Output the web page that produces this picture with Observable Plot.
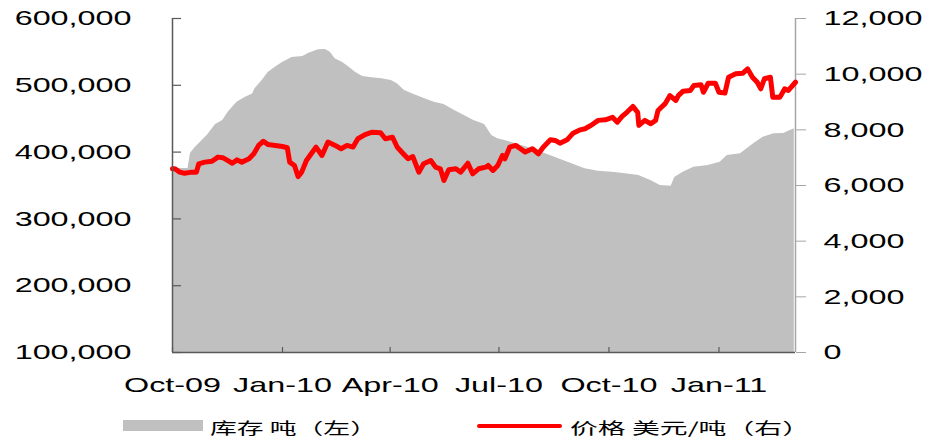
<!DOCTYPE html>
<html><head><meta charset="utf-8">
<script src="https://cdn.jsdelivr.net/npm/d3@7"></script>
<script src="https://cdn.jsdelivr.net/npm/@observablehq/plot@0.6"></script>
<style>
html,body{margin:0;padding:0;background:#fff;}
body{width:934px;height:441px;overflow:hidden;position:relative;font-family:"Liberation Sans",Arial,sans-serif;}
#chart{position:absolute;left:0;top:0;}
.sw{position:absolute;}
.legtext{position:absolute;font-family:"Noto Sans CJK SC",sans-serif;font-size:16px;line-height:16px;white-space:nowrap;transform-origin:0 50%;color:#000;}
</style></head><body>
<div id="chart"></div>
<div id="legend"></div>
<script>
// ---- data ----
const invDates = ["2009-10-01","2009-10-14","2009-10-16","2009-10-20","2009-10-30","2009-11-06","2009-11-12","2009-11-17","2009-11-24","2009-12-01","2009-12-07","2009-12-09","2009-12-15","2009-12-20","2009-12-26","2010-01-01","2010-01-09","2010-01-18","2010-01-23","2010-01-31","2010-02-06","2010-02-10","2010-02-14","2010-02-20","2010-02-25","2010-03-03","2010-03-09","2010-03-17","2010-03-25","2010-04-02","2010-04-07","2010-04-13","2010-04-21","2010-04-30","2010-05-08","2010-05-16","2010-05-25","2010-06-02","2010-06-10","2010-06-19","2010-06-25","2010-06-30","2010-07-06","2010-07-17","2010-07-29","2010-08-09","2010-08-20","2010-08-31","2010-09-11","2010-09-22","2010-10-04","2010-10-15","2010-10-26","2010-11-05","2010-11-13","2010-11-22","2010-11-25","2010-12-02","2010-12-11","2010-12-23","2011-01-02","2011-01-08","2011-01-19","2011-01-30","2011-02-07","2011-02-16","2011-02-24","2011-03-05"];
const invValues = [375400,375400,397900,406900,424800,441300,447300,460800,474700,482200,487000,495000,507200,519200,527100,534100,541600,543100,548000,553100,553600,549600,539700,534600,528100,519600,513200,511200,509700,507200,502200,492200,486200,479800,474700,471300,462300,454800,447300,441300,424800,419900,417400,411400,404900,397500,390000,382500,375000,371400,369900,367500,365000,357500,350000,349000,362000,369900,377400,379900,384900,394900,397500,412400,422300,427400,427900,434900];

const priceDates = ["2009-10-01","2009-10-03","2009-10-07","2009-10-11","2009-10-17","2009-10-21","2009-10-23","2009-10-28","2009-11-03","2009-11-08","2009-11-12","2009-11-16","2009-11-20","2009-11-24","2009-11-28","2009-12-04","2009-12-08","2009-12-12","2009-12-16","2009-12-20","2009-12-26","2010-01-01","2010-01-05","2010-01-07","2010-01-11","2010-01-14","2010-01-17","2010-01-21","2010-01-25","2010-01-29","2010-02-03","2010-02-08","2010-02-14","2010-02-19","2010-02-24","2010-03-01","2010-03-05","2010-03-11","2010-03-17","2010-03-24","2010-03-28","2010-04-03","2010-04-07","2010-04-12","2010-04-16","2010-04-20","2010-04-25","2010-04-29","2010-05-05","2010-05-09","2010-05-13","2010-05-16","2010-05-20","2010-05-26","2010-05-30","2010-06-05","2010-06-09","2010-06-14","2010-06-20","2010-06-22","2010-06-26","2010-06-30","2010-07-04","2010-07-06","2010-07-10","2010-07-15","2010-07-19","2010-07-23","2010-07-29","2010-08-03","2010-08-07","2010-08-13","2010-08-17","2010-08-21","2010-08-27","2010-09-01","2010-09-07","2010-09-11","2010-09-17","2010-09-22","2010-09-28","2010-10-04","2010-10-08","2010-10-12","2010-10-16","2010-10-21","2010-10-25","2010-10-26","2010-10-31","2010-11-05","2010-11-09","2010-11-11","2010-11-17","2010-11-21","2010-11-26","2010-11-28","2010-12-02","2010-12-08","2010-12-11","2010-12-17","2010-12-19","2010-12-23","2010-12-29","2011-01-01","2011-01-06","2011-01-09","2011-01-15","2011-01-21","2011-01-25","2011-01-29","2011-02-02","2011-02-05","2011-02-08","2011-02-13","2011-02-15","2011-02-21","2011-02-25","2011-02-28","2011-03-06"];
const priceValues = [6600,6600,6480,6440,6480,6480,6780,6840,6870,7020,7000,6900,6800,6920,6840,6960,7140,7440,7590,7470,7440,7400,7355,6840,6720,6320,6480,6900,7140,7380,7080,7560,7440,7320,7440,7380,7680,7830,7915,7895,7680,7735,7375,7140,6960,7040,6480,6780,6900,6660,6600,6180,6565,6600,6480,6800,6420,6600,6660,6720,6540,6720,7080,6960,7375,7440,7320,7200,7320,7140,7375,7640,7620,7520,7640,7880,8000,8040,8190,8340,8360,8450,8275,8480,8630,8840,8630,8160,8340,8220,8340,8695,8940,9230,9055,9230,9390,9415,9590,9620,9350,9675,9675,9350,9320,9890,10015,10035,10190,9890,9710,9475,9835,9890,9175,9175,9475,9415,9710];

const xTickDates = ["2009-10-01","2010-01-01","2010-04-01","2010-07-01","2010-10-01","2011-01-01"];
const xDomainDates = ["2009-10-01","2011-03-06"];
const leftTicks = [100000,200000,300000,400000,500000,600000];
const rightTicks = [0,2000,4000,6000,8000,10000,12000];
const legendLabels = ["库存 吨（左）","价格 美元/吨（右）"];
const legendColors = ["#c0c0c0","#ff0000"];

// ---- build ----
const parse = d3.utcParse("%Y-%m-%d");
const inv = invDates.map((d,i)=>({date: parse(d), v: invValues[i]}));
const price = priceDates.map((d,i)=>({date: parse(d), p: priceValues[i]}));
const L0 = leftTicks[0], L1 = leftTicks[leftTicks.length-1], R1 = rightTicks[rightTicks.length-1];
const toLeft = p => L0 + p*(L1-L0)/R1;
const toRight = v => (v-L0)*R1/(L1-L0);
const xDomain = xDomainDates.map(parse);
const fmtX = d3.utcFormat("%b-%y");
const fmtN = d3.format(",");
const W = 934, H = 400, mL = 172, mR = 139, mT = 18, mB = 48;
const plotW = W - mL - mR, plotH = H - mT - mB;
const dark = "#595959", light = "#a6a6a6";

const chart = Plot.plot({
  width: W, height: H,
  marginLeft: mL, marginRight: mR, marginTop: mT, marginBottom: mB,
  style: {fontFamily: '"Liberation Sans", Arial, sans-serif', fontSize: "21px", background: "white", color: "black", overflow: "visible"},
  x: {type: "utc", domain: xDomain, label: null, axis: null},
  y: {domain: [L0, L1], label: null, axis: null},
  marks: [
    Plot.areaY(inv, {x: "date", y1: () => L0, y2: "v", fill: "#c0c0c0"}),
    Plot.ruleX([xDomain[1]], {stroke: light, strokeWidth: 1.5}),
    Plot.lineY(price, {x: "date", y: d => toLeft(d.p), stroke: "#ff0000", strokeWidth: 5, strokeLinejoin: "round", strokeLinecap: "round"}),
    Plot.ruleX([xDomain[0]], {stroke: dark, strokeWidth: 1.5}),
    Plot.ruleY([L0], {stroke: dark, strokeWidth: 1.5}),
    Plot.tickY(leftTicks, {y: d => d, stroke: dark, strokeWidth: 1.2, insetRight: plotW - 9}),
    Plot.tickX(xTickDates.map(parse), {x: d => d, stroke: dark, strokeWidth: 1.2, insetTop: plotH - 5}),
    Plot.axisY(leftTicks, {anchor: "left", tickSize: 0, tickPadding: 41, tickFormat: fmtN, fill: "black", label: null}),
    Plot.axisY(rightTicks.map(toLeft), {anchor: "right", tickSize: 10, tickPadding: 18, tickFormat: v => fmtN(Math.round(toRight(v))), stroke: light, fill: "black", label: null}),
    Plot.axisX(xTickDates.map(parse), {anchor: "bottom", tickSize: 0, tickPadding: 25, tickFormat: fmtX, fill: "black", label: null})
  ]
});
document.getElementById("chart").appendChild(chart);

// horizontally stretched tick labels, as in the reference
const S = 1.54;
chart.querySelectorAll('g[aria-label*="tick label"] text').forEach(t => {
  const tr = t.getAttribute("transform");
  if (tr) t.setAttribute("transform", tr + ` scale(${S},1)`);
  else {
    const x = t.getAttribute("x") || 0, y = t.getAttribute("y") || 0;
    t.removeAttribute("x"); t.removeAttribute("y");
    t.setAttribute("transform", `translate(${x},${y}) scale(${S},1)`);
  }
});

// legend
const legend = document.getElementById("legend");
const legSpec = [
  {swLeft: 123, swTop: 420, swW: 80, swH: 11, txLeft: 210, txW: 167},
  {swLeft: 477, swTop: 424, swW: 85, swH: 4, txLeft: 570, txW: 240}
];
legendLabels.forEach((lab, i) => {
  const s = legSpec[i];
  const sw = document.createElement("div");
  sw.className = "sw";
  Object.assign(sw.style, {left: s.swLeft+"px", top: s.swTop+"px", width: s.swW+"px", height: s.swH+"px", background: legendColors[i], borderRadius: i ? "2px" : "0"});
  legend.appendChild(sw);
  const tx = document.createElement("span");
  tx.className = "legtext";
  tx.textContent = lab;
  Object.assign(tx.style, {left: s.txLeft+"px", top: "419px"});
  legend.appendChild(tx);
  const w = tx.getBoundingClientRect().width;
  tx.style.transform = `scaleX(${s.txW / w})`;
});
</script>
</body></html>
